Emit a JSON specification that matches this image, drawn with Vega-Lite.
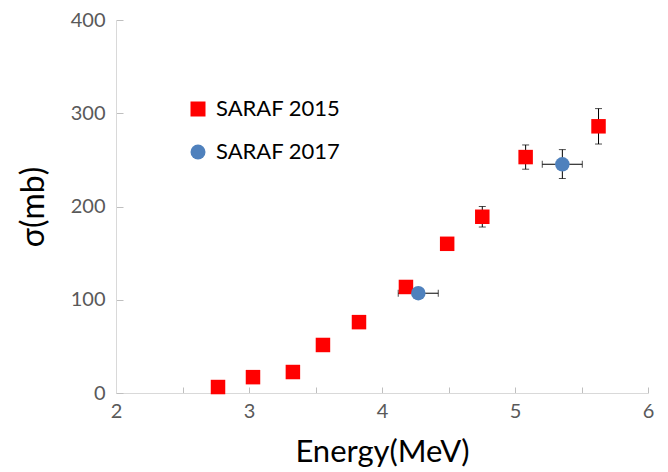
{
  "$schema": "https://vega.github.io/schema/vega-lite/v6.json",
  "width": 532,
  "height": 373,
  "autosize": {"type": "none"},
  "padding": {"left": 116, "top": 20, "right": 20, "bottom": 79},
  "background": "white",
  "config": {
    "view": {"stroke": null},
    "font": "Lato",
    "axis": {"grid": false, "domainColor": "#d9d9d9", "tickColor": "#bfbfbf", "labelColor": "#595959", "labelFont": "Lato", "titleFont": "Lato", "titleColor": "#000000", "titleFontWeight": "normal", "labelFlush": false}
  },
  "data": {
    "values": [
      {"series": "SARAF 2015", "E": 2.767, "sigma": 6.4},
      {"series": "SARAF 2015", "E": 3.03, "sigma": 17},
      {"series": "SARAF 2015", "E": 3.33, "sigma": 22.5},
      {"series": "SARAF 2015", "E": 3.556, "sigma": 51.5},
      {"series": "SARAF 2015", "E": 3.827, "sigma": 76},
      {"series": "SARAF 2015", "E": 4.18, "sigma": 113.7},
      {"series": "SARAF 2015", "E": 4.49, "sigma": 160},
      {"series": "SARAF 2015", "E": 4.754, "sigma": 189, "sLo": 178, "sHi": 200},
      {"series": "SARAF 2015", "E": 5.08, "sigma": 253, "sLo": 240, "sHi": 266},
      {"series": "SARAF 2015", "E": 5.628, "sigma": 286, "sLo": 267, "sHi": 305},
      {"series": "SARAF 2017", "E": 4.273, "sigma": 107, "eLo": 4.122, "eHi": 4.423},
      {"series": "SARAF 2017", "E": 5.356, "sigma": 245.3, "eLo": 5.205, "eHi": 5.506, "sLo": 230, "sHi": 261}
    ]
  },
  "layer": [
    {
      "transform": [{"filter": "isValid(datum.sLo)"}],
      "mark": {"type": "rule", "color": "black", "strokeWidth": 1},
      "encoding": {
        "x": {"field": "E", "type": "quantitative"},
        "y": {"field": "sLo", "type": "quantitative"},
        "y2": {"field": "sHi"}
      }
    },
    {
      "transform": [{"filter": "isValid(datum.sLo)"}, {"fold": ["sLo", "sHi"], "as": ["k", "v"]}],
      "mark": {"type": "tick", "color": "black", "orient": "horizontal", "size": 7, "thickness": 1},
      "encoding": {
        "x": {"field": "E", "type": "quantitative"},
        "y": {"field": "v", "type": "quantitative"}
      }
    },
    {
      "transform": [{"filter": "isValid(datum.eLo)"}],
      "mark": {"type": "rule", "color": "black", "strokeWidth": 1},
      "encoding": {
        "x": {"field": "eLo", "type": "quantitative"},
        "x2": {"field": "eHi"},
        "y": {"field": "sigma", "type": "quantitative"}
      }
    },
    {
      "transform": [{"filter": "isValid(datum.eLo)"}, {"fold": ["eLo", "eHi"], "as": ["k", "v"]}],
      "mark": {"type": "tick", "color": "black", "orient": "vertical", "size": 7, "thickness": 1},
      "encoding": {
        "x": {"field": "v", "type": "quantitative"},
        "y": {"field": "sigma", "type": "quantitative"}
      }
    },
    {
      "mark": {"type": "point", "filled": true, "opacity": 1},
      "encoding": {
        "x": {
          "field": "E", "type": "quantitative",
          "scale": {"domain": [2, 6], "nice": false, "zero": false},
          "axis": {
            "title": "Energy(MeV)",
            "values": [2, 2.5, 3, 3.5, 4, 4.5, 5, 5.5, 6],
            "labelExpr": "datum.value % 1 === 0 ? format(datum.value, 'd') : ''",
            "tickSize": -6,
            "labelPadding": 14,
            "labelFontSize": 20,
            "titleFontSize": 31,
            "titlePadding": 16
          }
        },
        "y": {
          "field": "sigma", "type": "quantitative",
          "scale": {"domain": [0, 400], "nice": false},
          "axis": {
            "title": "σ(mb)",
            "values": [0, 100, 200, 300, 400],
            "tickSize": -7,
            "labelPadding": 18,
            "labelFontSize": 20,
            "titleFontSize": 32,
            "titlePadding": 20
          }
        },
        "color": {
          "field": "series", "type": "nominal",
          "scale": {"domain": ["SARAF 2015", "SARAF 2017"], "range": ["#ff0000", "#4f81bd"]},
          "legend": {
            "title": null,
            "orient": "none",
            "legendX": 71,
            "legendY": 78,
            "labelFontSize": 22,
            "labelColor": "#000000",
            "labelFont": "Lato",
            "labelOffset": 7,
            "symbolSize": 225,
            "rowPadding": 21,
            "symbolOpacity": 1
          }
        },
        "shape": {
          "field": "series", "type": "nominal",
          "scale": {"domain": ["SARAF 2015", "SARAF 2017"], "range": ["square", "circle"]}
        },
        "size": {"value": 210}
      }
    }
  ]
}
